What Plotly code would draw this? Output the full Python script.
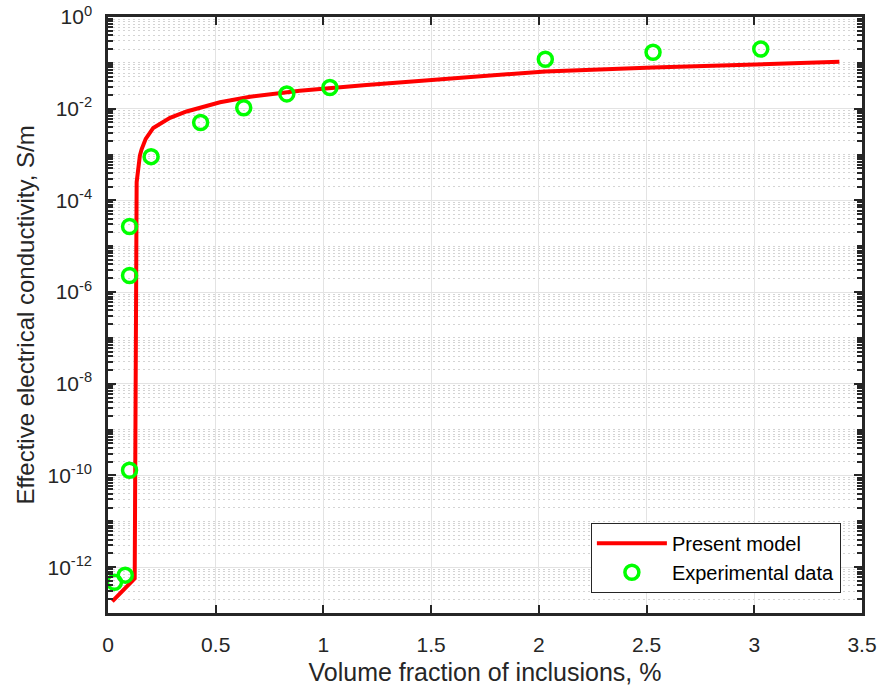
import plotly.graph_objects as go

# Model curve
model_x = [0.02, 0.124, 0.133, 0.140, 0.148, 0.156, 0.175, 0.21, 0.25, 0.288, 0.365,
           0.442, 0.52, 0.66, 0.89, 1.2, 1.59, 2.03, 2.53, 3.03, 3.395]
model_y = [1.8e-13, 5.7e-13, 2.5e-4, 6.0e-4, 9.5e-4, 1.3e-3, 2.2e-3, 3.8e-3, 5.0e-3, 6.3e-3, 8.7e-3,
           1.12e-2, 1.38e-2, 1.82e-2, 2.45e-2, 3.3e-2, 4.6e-2, 6.5e-2, 7.9e-2, 9.3e-2, 1.05e-1]

# Experimental data
exp_x = [0.03, 0.08, 0.10, 0.10, 0.10, 0.20, 0.43, 0.63, 0.83, 1.03, 2.03, 2.53, 3.03]
exp_y = [4.7e-13, 6.7e-13, 1.3e-10, 2.3e-6, 2.7e-5, 9.0e-4, 5.0e-3, 1.05e-2, 2.1e-2, 2.9e-2, 0.12, 0.17, 0.20]

# Axis ticks
x_ticks = [0, 0.5, 1, 1.5, 2, 2.5, 3, 3.5]
x_ticktext = ["0", "0.5", "1", "1.5", "2", "2.5", "3", "3.5"]
y_exps = [-12, -10, -8, -6, -4, -2, 0]
y_ticks = [10.0 ** e for e in y_exps]
y_ticktext = ["10<sup>%d</sup>" % e for e in y_exps]
y_minor = [k * 10.0 ** n for n in range(-13, 0) for k in range(1, 10)
           if not (k == 1 and n % 2 == 0)]

axis_col = "#262626"
font_fam = "Liberation Sans, Arial, Helvetica, sans-serif"

fig = go.Figure()
fig.add_trace(go.Scatter(x=model_x, y=model_y, mode="lines", name="Present model",
                         line=dict(color="#ff0000", width=4)))
fig.add_trace(go.Scatter(x=exp_x, y=exp_y, mode="markers", name="Experimental data",
                         marker=dict(symbol="circle-open", size=14, color="#00ff00",
                                     line=dict(color="#00ff00", width=3.5))))

fig.update_layout(
    width=877, height=688,
    margin=dict(l=108, r=15, t=17, b=75, autoexpand=False),
    paper_bgcolor="white", plot_bgcolor="white",
    font=dict(family=font_fam, size=21, color=axis_col),
    showlegend=True,
    legend=dict(x=0.972, y=0.034, xanchor="right", yanchor="bottom",
                bgcolor="white", bordercolor=axis_col, borderwidth=1,
                font=dict(family=font_fam, size=20, color="#000000"),
                itemwidth=70, tracegroupgap=0),
    xaxis=dict(
        range=[0, 3.5], tickmode="array", tickvals=x_ticks, ticktext=x_ticktext,
        ticks="inside", ticklen=8, tickwidth=2, tickcolor=axis_col,
        showline=True, linecolor=axis_col, linewidth=2.5, mirror="allticks",
        showgrid=True, gridcolor="#e3e3e3", gridwidth=1, zeroline=False,
        ticklabelstandoff=11, automargin=False,
        title=dict(text="Volume fraction of inclusions, %", standoff=9,
                   font=dict(size=25, color=axis_col)),
    ),
    yaxis=dict(
        type="log", range=[-13, 0], tickmode="array", tickvals=y_ticks, ticktext=y_ticktext,
        ticks="inside", ticklen=8, tickwidth=2, tickcolor=axis_col,
        showline=True, linecolor=axis_col, linewidth=2.5, mirror="allticks",
        showgrid=True, gridcolor="#e3e3e3", gridwidth=1, zeroline=False,
        ticklabelstandoff=9, automargin=False,
        minor=dict(tickmode="array", tickvals=y_minor, ticks="inside", ticklen=5,
                   tickwidth=1.5, tickcolor=axis_col, showgrid=True,
                   gridcolor="#d4d4d4", gridwidth=1, griddash="2px,3px"),
        title=dict(text="Effective electrical conductivity, S/m", standoff=7,
                   font=dict(size=24, color=axis_col)),
    ),
)

fig.write_html("out.html")
